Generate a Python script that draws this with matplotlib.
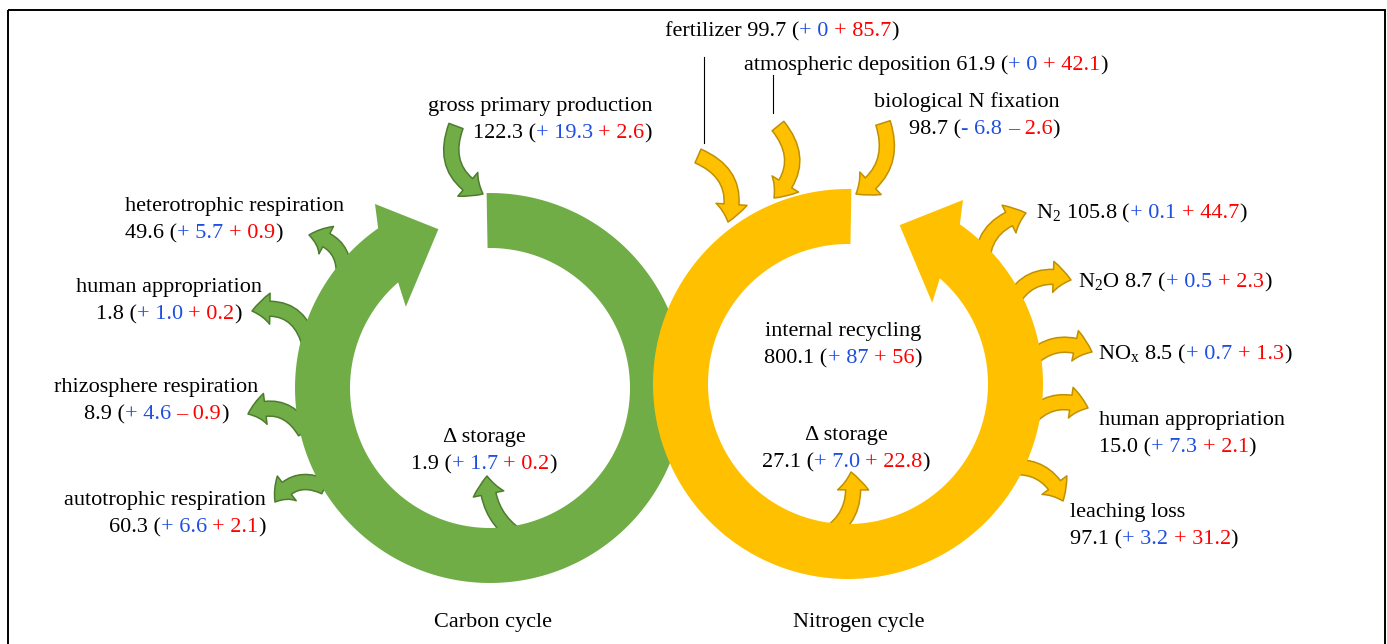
import numpy as np
import matplotlib.pyplot as plt
from matplotlib.patches import Polygon, FancyArrowPatch, Rectangle, ArrowStyle

plt.rcParams['font.family'] = ['Liberation Serif', 'DejaVu Serif']

# ---- data: total flux (+ blue change + red change) ----
carbon_names = ['gross primary production', 'heterotrophic respiration',
                'human appropriation', 'rhizosphere respiration',
                'autotrophic respiration', '\u0394 storage']
carbon_total = ['122.3', '49.6', '1.8', '8.9', '60.3', '1.9']
carbon_blue = ['+ 19.3', '+ 5.7', '+ 1.0', '+ 4.6', '+ 6.6', '+ 1.7']
carbon_red = ['+ 2.6', '+ 0.9', '+ 0.2', '\u2013 0.9', '+ 2.1', '+ 0.2']

nitrogen_names = ['fertilizer', 'atmospheric deposition', 'biological N fixation',
                  'internal recycling', r'$\mathregular{N_2}$', r'$\mathregular{N_2O}$',
                  r'$\mathregular{NO_x}$', 'human appropriation', 'leaching loss',
                  '\u0394 storage']
nitrogen_total = ['99.7', '61.9', '98.7', '800.1', '105.8', '8.7', '8.5',
                  '15.0', '97.1', '27.1']
nitrogen_blue = ['+ 0', '+ 0', '- 6.8', '+ 87', '+ 0.1', '+ 0.5', '+ 0.7',
                 '+ 7.3', '+ 3.2', '+ 7.0']
nitrogen_red = ['+ 85.7', '+ 42.1', '\u2013 2.6', '+ 56', '+ 44.7', '+ 2.3',
                '+ 1.3', '+ 2.1', '+ 31.2', '+ 22.8']

cycle_titles = ['Carbon cycle', 'Nitrogen cycle']

# ---- layout (pixel coords, y down) ----
# label: x, baseline of first line, alignment, single line?
carbon_label_pos = [(652, 111, 'right', False), (125, 211, 'left', False),
                    (169, 292, 'center', False), (156, 392, 'center', False),
                    (266, 505, 'right', False), (484, 442, 'center', False)]
nitrogen_label_pos = [(665, 36, 'left', True), (744, 70, 'left', True),
                      (1060, 107, 'right', False), (843, 336, 'center', False),
                      (1036, 218, 'left', True), (1078, 287, 'left', True),
                      (1098, 359, 'left', True), (1099, 425, 'left', False),
                      (1070, 517, 'left', False), (846, 440, 'center', False)]
# small arrows: start, tip, curvature
carbon_arrows = [((456, 126), (483, 194), 0.45), ((344, 276), (309, 235), 0.45),
                 ((310, 346), (252, 311), 0.5), ((305, 432), (248, 414), 0.45),
                 ((325, 487), (275, 502), 0.45), ((524, 540), (487, 476), -0.3)]
nitrogen_arrows = [((698, 156), (728, 222), -0.45), ((778, 126), (774, 198), -0.45),
                   ((883, 123), (856, 194), -0.4), None,
                   ((983, 276), (1026, 213), -0.45), ((1008, 310), (1071, 280), -0.45),
                   ((1025, 366), (1092, 352), -0.4), ((1025, 424), (1088, 408), -0.4),
                   ((1006, 468), (1063, 501), -0.4), ((818, 540), (851, 472), 0.4)]

FS = 16
BLACK, BLUE, RED = 'black', '#1f4fe0', '#ff0000'
GREEN, GREEN_EDGE = '#70ad47', '#4e7b30'
YELLOW, YELLOW_EDGE = '#ffc000', '#bf9000'

fig = plt.figure(figsize=(13.87, 6.44), dpi=100)
ax = fig.add_axes([0, 0, 1, 1])
ax.set_xlim(0, 1387)
ax.set_ylim(644, 0)
ax.axis('off')
renderer = fig.canvas.get_renderer()


def rich_line(x, y, parts, ha='left'):
    # draw coloured pieces side by side on one baseline
    space = 0.25 * FS * fig.dpi / 72
    items = []
    cur = 0.0
    for s, c in parts:
        lead = len(s) - len(s.lstrip(' '))
        trail = len(s) - len(s.rstrip(' '))
        cur += lead * space
        t = ax.text(x, y, s.strip(' '), color=c, ha='left', va='baseline',
                    fontsize=FS, zorder=5)
        w = t.get_window_extent(renderer).width
        items.append((t, cur))
        cur += w + trail * space
    off = {'left': 0, 'center': cur / 2, 'right': cur}[ha]
    for t, dx in items:
        t.set_x(x + dx - off)


def flux_label(name, total, blue, red, pos):
    x, y, ha, inline = pos
    nums = [(total + ' (', BLACK), (blue, BLUE), (' ' + red, RED), (')', BLACK)]
    if inline:
        nums[0] = (name + ' ' + total + ' (', BLACK)
        rich_line(x, y, nums, ha)
    else:
        rich_line(x, y, [(name, BLACK)], ha)
        rich_line(x, y + 27, nums, ha)


def ring(cx, cy, start, end_out, end_in, head, color):
    # circular band with arrow head, angles in degrees (maths convention)
    r_in, r_out = 140, 195
    def pt(a, r):
        return (cx + r * np.cos(np.radians(a)), cy - r * np.sin(np.radians(a)))
    outer = [pt(a, r_out) for a in np.linspace(start, end_out, 200)]
    inner = [pt(a, r_in) for a in np.linspace(end_in, start, 200)]
    hd = [pt(a, r) for a, r in head]
    ax.add_patch(Polygon(outer + hd + inner, closed=True, fc=color, ec='none', zorder=2))


def small_arrow(start, tip, rad, fc, ec):
    style = ArrowStyle.Simple(head_length=18, head_width=31, tail_width=15)
    ax.add_patch(FancyArrowPatch(start, tip, arrowstyle=style,
                                 connectionstyle=f'arc3,rad={rad}',
                                 mutation_scale=72 / fig.dpi, shrinkA=0, shrinkB=0,
                                 fc=fc, ec=ec, lw=1.1, zorder=1))


# frame
ax.add_patch(Rectangle((7.5, 9.5), 1377, 700, fill=False, ec='black', lw=1.4, zorder=0))

# carbon ring (clockwise) then nitrogen ring (counter-clockwise) on top
ring(490, 388, 91, -235, -229, [(122, 217), (108, 167), (136, 117)], GREEN)
ring(848, 384, 89, 415, 409, [(58, 217), (72, 167), (44, 117)], YELLOW)

for a in carbon_arrows:
    small_arrow(a[0], a[1], a[2], GREEN, GREEN_EDGE)
for a in nitrogen_arrows:
    if a is not None:
        small_arrow(a[0], a[1], a[2], YELLOW, YELLOW_EDGE)

# leader lines for the top nitrogen inputs
ax.plot([704, 704], [57, 143], color='black', lw=0.8)
ax.plot([773, 773], [75, 113], color='black', lw=0.8)

for i in range(len(carbon_names)):
    flux_label(carbon_names[i], carbon_total[i], carbon_blue[i], carbon_red[i],
               carbon_label_pos[i])
for i in range(len(nitrogen_names)):
    flux_label(nitrogen_names[i], nitrogen_total[i], nitrogen_blue[i], nitrogen_red[i],
               nitrogen_label_pos[i])

rich_line(493, 627, [(cycle_titles[0], BLACK)], 'center')
rich_line(859, 627, [(cycle_titles[1], BLACK)], 'center')

fig.savefig('out.png', dpi=100)
